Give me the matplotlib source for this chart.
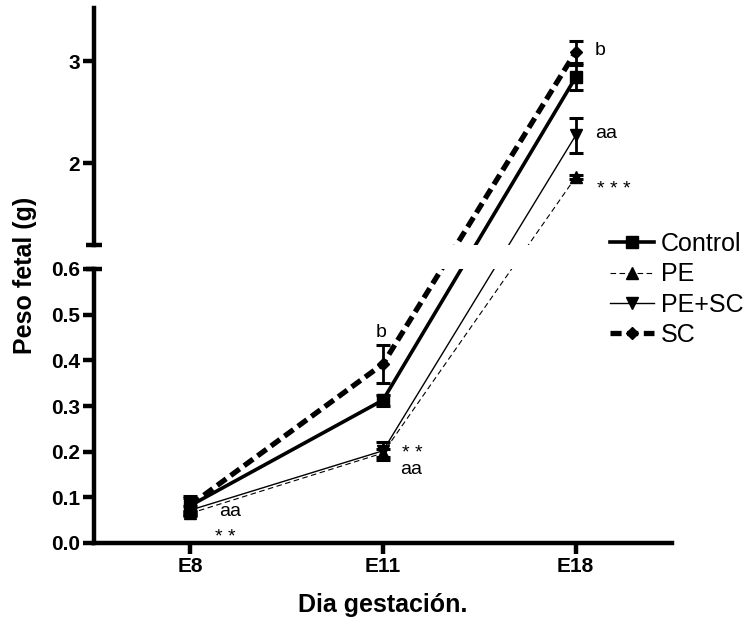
import matplotlib
matplotlib.use("Agg")
import matplotlib.pyplot as plt
import numpy as np

plt.rcParams['font.family'] = ['Liberation Sans', 'DejaVu Sans']
plt.rcParams['lines.scale_dashes'] = False

# datos
dias = ["E8", "E11", "E18"]
control = [0.082, 0.313, 2.84]
control_err = [0.02, 0.012, 0.12]
pe = [0.065, 0.197, 1.86]
pe_err = [0.005, 0.008, 0.02]
pe_sc = [0.072, 0.202, 2.27]
pe_sc_err = [0.008, 0.02, 0.17]
sc = [0.083, 0.392, 3.09]
sc_err = [0.015, 0.042, 0.11]

ticks_bajo = [0.0, 0.1, 0.2, 0.3, 0.4, 0.5, 0.6]
ticks_alto = [2, 3]

series = [
    ("Control", control, control_err, dict(ls='-', lw=2.6, marker='s', ms=8.5)),
    ("PE", pe, pe_err, dict(ls=(0, (4, 2.5)), lw=0.8, marker='^', ms=9)),
    ("PE+SC", pe_sc, pe_sc_err, dict(ls='-', lw=1.0, marker='v', ms=9)),
    ("SC", sc, sc_err, dict(ls=(0, (8, 4)), lw=3.8, marker='D', ms=6.5)),
]

# anotaciones (texto, x, y)
anotaciones = [
    ("b", 2.1, 3.108),
    ("aa", 2.1, 2.294),
    ("* * *", 2.11, 1.74),
    ("b", 0.96, 0.462),
    ("* *", 1.1, 0.196),
    ("aa", 1.09, 0.16),
    ("aa", 0.15, 0.068),
    ("* *", 0.13, 0.013),
]

# eje cortado: 0-0.6 abajo, 1.196-3.52 arriba, con un hueco entre ambos
CORTE_BAJO, CORTE_ALTO = 0.6, 1.196
ESC_BAJO, ESC_ALTO = 457.0, 102.0
HUECO = 24.0


def f(y):
    y = np.asarray(y, dtype=float)
    bajo = y * ESC_BAJO
    alto = CORTE_BAJO * ESC_BAJO + HUECO + (y - CORTE_ALTO) * ESC_ALTO
    return np.where(y < 0.9, bajo, alto)


W, H = 755, 622
fig = plt.figure(figsize=(W / 100, H / 100), dpi=100)
left, right = 94 / W, 672 / W
ax_hi = fig.add_axes([left, 1 - 245 / H, right - left, (245 - 8) / H])
ax_lo = fig.add_axes([left, 1 - 543 / H, right - left, (543 - 269) / H])

x = np.arange(len(dias))
handles = []
for ax in (ax_hi, ax_lo):
    for nombre, y, err, st in series:
        y = np.array(y)
        err = np.array(err)
        yc = f(y)
        ax.errorbar(x, yc, yerr=[yc - f(y - err), f(y + err) - yc], fmt='none',
                    ecolor='black', elinewidth=2.0, capsize=5, capthick=2.2, zorder=2)
        ln, = ax.plot(x, yc, color='black', ls=st['ls'], lw=st['lw'],
                      marker=st['marker'], ms=st['ms'], mfc='black', mec='black',
                      zorder=3, label=nombre)
        if ax is ax_lo:
            handles.append(ln)
    ax.set_xlim(-0.5, 2.5)
    for s in ('top', 'right'):
        ax.spines[s].set_visible(False)
    for s in ('left', 'bottom'):
        ax.spines[s].set_linewidth(3.2)
    ax.tick_params(axis='both', width=3.2, length=8, pad=2)

ax_hi.set_ylim(float(f(CORTE_ALTO)), float(f(3.52)))
ax_hi.set_yticks(f(ticks_alto))
ax_hi.set_yticklabels([str(t) for t in ticks_alto], fontweight='bold', fontsize=15)
ax_hi.spines['bottom'].set_visible(False)
ax_hi.set_xticks([])

ax_lo.set_ylim(0, float(f(CORTE_BAJO)))
ax_lo.set_yticks(f(ticks_bajo))
ax_lo.set_yticklabels(["%.1f" % t for t in ticks_bajo], fontweight='bold', fontsize=15)
ax_lo.set_xticks(x)
ax_lo.set_xticklabels(dias, fontweight='bold', fontsize=15)

# remates del eje cortado
ax_hi.plot([0], [0], transform=ax_hi.transAxes, marker='_', ms=11, mew=3.2,
           color='black', clip_on=False)
ax_lo.plot([0], [1], transform=ax_lo.transAxes, marker='_', ms=11, mew=3.2,
           color='black', clip_on=False)

for txt, xa, ya in anotaciones:
    ax = ax_hi if ya > 1 else ax_lo
    ax.text(xa, float(f(ya)), txt, fontsize=14, ha='left', va='center')

fig.text(25 / W, 1 - 275.5 / H, "Peso fetal (g)", rotation=90, fontsize=18,
         fontweight='bold', ha='center', va='center')
fig.text(383 / W, 1 - 605 / H, "Dia gestación.", fontsize=18, fontweight='bold',
         ha='center', va='center')

fig.legend(handles=handles, loc='upper left', bbox_to_anchor=(610 / W, 1 - 232 / H),
           frameon=False, fontsize=18, handlelength=1.75, handletextpad=0.3,
           labelspacing=0.25, borderpad=0, borderaxespad=0)

fig.savefig("out.png", dpi=100)
